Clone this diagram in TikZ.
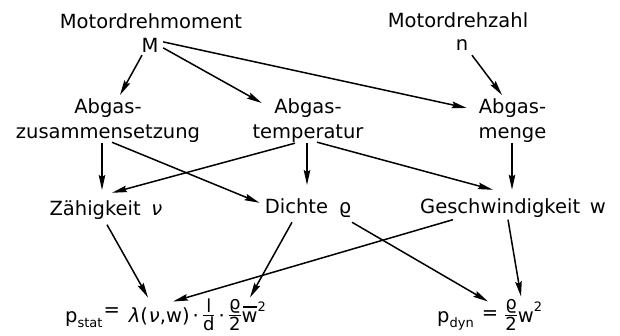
\documentclass[tikz,border=0pt]{standalone}
\usepackage{fontspec}
\setmainfont{DejaVu Sans}
\usetikzlibrary{arrows.meta}

% sizes and small helpers for the two pressure formulas
\newcommand\smallsz{\fontsize{13}{13}\selectfont}
\newcommand\fracsz{\fontsize{18}{18}\selectfont}
\newcommand\pfrac[2]{\raisebox{2pt}{${\mbox{\fracsz #1}\above 1.2pt\mbox{\fracsz #2}}$}}
\newcommand\subtxt[1]{\raisebox{-5pt}{\smallsz #1}}
\newcommand\suptxt[1]{\raisebox{11pt}{\smallsz #1}}
\newcommand\raisedeq[1]{\raisebox{#1}{=}}
\newcommand\wbar{\makebox[0pt][l]{\hspace{1.5pt}\rule[15pt]{13.5pt}{1.2pt}}w}

\tikzset{
  lbl/.style={inner sep=0pt, font=\fontsize{19.5}{25}\selectfont},
  arr/.style={draw, line width=1.5pt,
    -{Stealth[length=15pt, width=6.5pt, inset=2pt]}}
}

\begin{document}
\begin{tikzpicture}[x=1pt, y=-1pt]
  \fill[white] (0,0) rectangle (620,335);
  \useasboundingbox (0,0) rectangle (620,335);

  % sources
  \node[lbl, anchor=base] (mdm) at (151,28) {Motordrehmoment};
  \node[lbl, anchor=base] (M)   at (150,52) {M};
  \node[lbl, anchor=base] (mdz) at (458,27) {Motordrehzahl};
  \node[lbl, anchor=base] (n)   at (462,50) {n};

  % exhaust gas quantities
  \node[lbl, anchor=north, align=center] (zus) at (108,98.5) {Abgas-\\zusammensetzung};
  \node[lbl, anchor=north, align=center] (tmp) at (308,98.5) {Abgas-\\temperatur};
  \node[lbl, anchor=north, align=center] (mng) at (512.5,98.5) {Abgas-\\menge};

  % material and flow values
  \node[lbl, anchor=base] (zah) at (106,215) {Zähigkeit\hspace{0.55em}{\itshape ν}};
  \node[lbl, anchor=base] (dic) at (308,213) {Dichte\hspace{0.55em}ϱ};
  \node[lbl, anchor=base] (ges) at (513,213) {Geschwindigkeit\hspace{0.5em}w};

  % pressure losses
  \node[lbl, anchor=base west] (pst) at (65,322.5)
    {p\subtxt{stat}\hspace{1pt}\raisedeq{6pt}\hspace{9pt}{\itshape λ}(\kern1pt{\itshape ν},w)\hspace{3pt}·\hspace{3pt}\pfrac{l}{d}\hspace{3pt}·\hspace{3pt}\pfrac{ϱ}{2}\wbar\suptxt{2}};
  \node[lbl, anchor=base west] (pdy) at (437,322.5)
    {p\subtxt{dyn}\hspace{8pt}\raisedeq{3pt}\hspace{6pt}\pfrac{ϱ}{2}w\suptxt{2}};

  % dependencies
  \draw[arr] ([shift={(-8,3)}]M.south) -- ([shift={(12,-3.5)}]zus.north);
  \draw[arr] ([shift={(4.6,3)}]M.east) -- ([shift={(9.5,4.5)}]tmp.north west);
  \draw[arr] ([shift={(4.6,-3)}]M.east) -- ([shift={(-11.6,9.5)}]mng.north west);
  \draw[arr] ([shift={(10,5)}]n.south) -- ([shift={(-10.5,-3.5)}]mng.north);

  \draw[arr] ([shift={(-6,0.5)}]zus.south) -- ([shift={(-4,-10)}]zah.north);
  \draw[arr] ([shift={(4,-0.5)}]zus.south) -- ([shift={(-5.2,4.8)}]dic.north west);
  \draw[arr] ([shift={(-13,0.4)}]tmp.south) -- ([shift={(6,-7.2)}]zah.north);
  \draw[arr] ([shift={(-1,0.4)}]tmp.south) -- ([shift={(-1,-13)}]dic.north);
  \draw[arr] ([shift={(9,-0.6)}]tmp.south) -- ([shift={(-20,-8.2)}]ges.north);
  \draw[arr] ([shift={(-0.5,0.4)}]mng.south) -- ([shift={(-1,-8.2)}]ges.north);

  \draw[arr] ([shift={(1,5.4)}]zah.south) -- ([shift={(83,-25)}]pst.base west);
  \draw[arr] ([shift={(-16,5)}]dic.south) -- ([shift={(185,-25)}]pst.base west);
  \draw[arr] ([shift={(-60,2.4)}]ges.south) -- ([shift={(108,-21)}]pst.base west);
  \draw[arr] ([shift={(44,5)}]dic.south) -- ([shift={(51,-21)}]pdy.base west);
  \draw[arr] ([shift={(-5,2.4)}]ges.south) -- ([shift={(84,-26)}]pdy.base west);
\end{tikzpicture}
\end{document}
